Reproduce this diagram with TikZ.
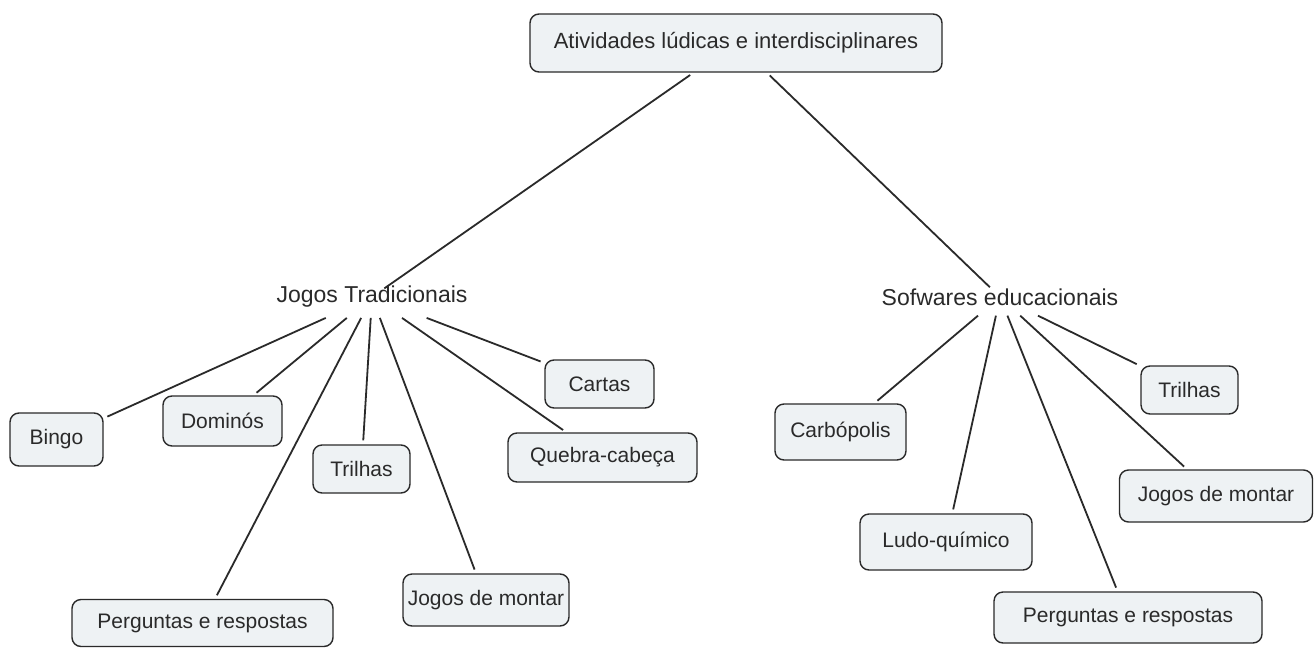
\documentclass[tikz,border=0pt]{standalone}
\usepackage{fontspec}
\setmainfont{Liberation Sans}
\definecolor{boxfill}{HTML}{EEF2F4}
\definecolor{ink}{HTML}{2A2A2A}
\begin{document}
\begin{tikzpicture}[x=1pt,y=-1pt,
  box/.style={draw=ink, line width=1.4pt, rounded corners=9pt, fill=boxfill,
    font=\fontsize{21}{24}\selectfont, inner sep=0pt, text=ink},
  lbl/.style={font=\fontsize{23}{26}\selectfont, inner sep=10pt, text=ink},
  link/.style={line width=1.8pt, draw=ink}]
\useasboundingbox (0,0) rectangle (1314,648);
\fill[white] (0,0) rectangle (1314,648);
% top
\node[box, minimum width=412pt, minimum height=58pt, font=\fontsize{22}{25}\selectfont] (top) at (736,43) {Atividades lúdicas e interdisciplinares};
% branches
\node[lbl] (jt) at (372,297) {Jogos Tradicionais};
\node[lbl] (sw) at (1000,297) {Sofwares educacionais};
% left children
\node[box, minimum width=93pt, minimum height=53pt] (bingo) at (56.5,439.5) {Bingo};
\node[box, minimum width=119pt, minimum height=50pt] (dom) at (222.5,421) {Dominós};
\node[box, minimum width=97pt, minimum height=48pt] (tril1) at (361.5,469) {Trilhas};
\node[box, minimum width=109pt, minimum height=48pt] (cartas) at (599.5,384) {Cartas};
\node[box, minimum width=189pt, minimum height=49pt] (queb) at (602.5,457.5) {Quebra-cabeça};
\node[box, minimum width=261pt, minimum height=47pt] (perg1) at (202.5,623) {Perguntas e respostas};
\node[box, minimum width=166pt, minimum height=52pt] (jogos1) at (486,600) {Jogos de montar};
% right children
\node[box, minimum width=131pt, minimum height=56pt] (carb) at (840.5,432) {Carbópolis};
\node[box, minimum width=97pt, minimum height=48pt] (tril2) at (1189.5,390) {Trilhas};
\node[box, minimum width=193pt, minimum height=52pt] (jogos2) at (1216,496) {Jogos de montar};
\node[box, minimum width=172pt, minimum height=56pt] (ludo) at (946,542) {Ludo-químico};
\node[box, minimum width=268pt, minimum height=51pt] (perg2) at (1128,617.5) {Perguntas e respostas};
% connectors
\draw[link, shorten <=4pt, shorten >=15pt] (top) -- (jt.center);
\draw[link, shorten <=4pt, shorten >=14pt] (top) -- (sw.center);
\foreach \c in {bingo,dom,tril1,cartas,queb,perg1,jogos1}
  \draw[link, shorten >=4pt] (jt) -- (\c);
\foreach \c in {carb,tril2,jogos2,ludo,perg2}
  \draw[link, shorten >=4pt] (sw) -- (\c);
\end{tikzpicture}
\end{document}
